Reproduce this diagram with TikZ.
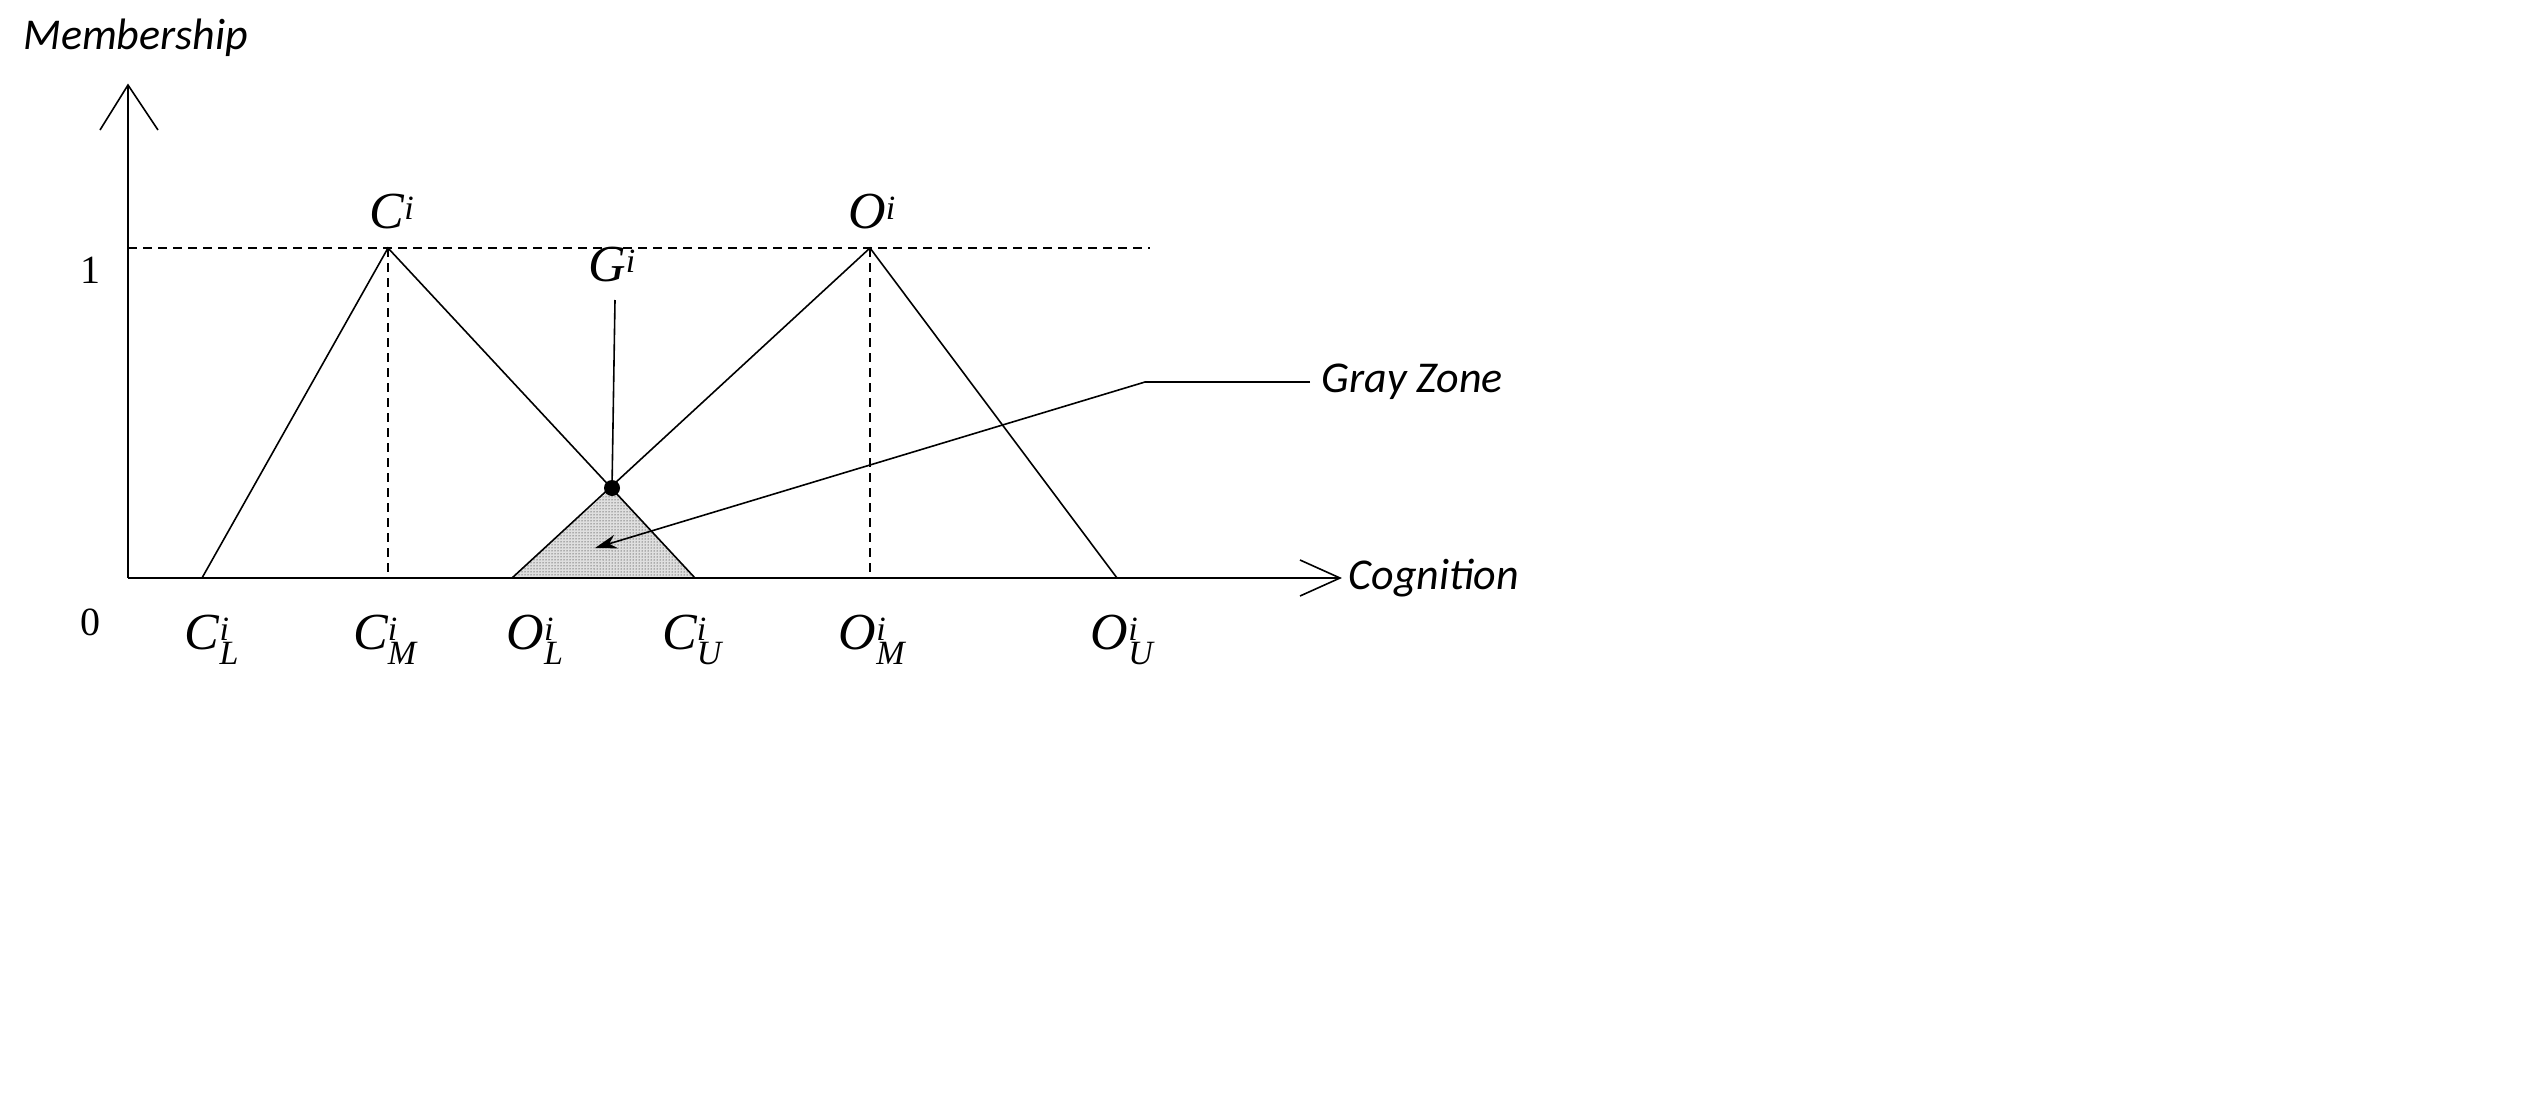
\documentclass[tikz,border=0pt]{standalone}
\usepackage{fontspec}
\setmainfont{Liberation Serif}
\newfontfamily\lab{Carlito}
\usetikzlibrary{patterns,arrows.meta}
\tikzset{
  ln/.style={line width=1.6pt},
  dsh/.style={line width=1.6pt,dash pattern=on 9pt off 6pt},
  word/.style={font=\lab\itshape\fontsize{44}{48}\selectfont,anchor=west},
  mth/.style={font=\fontsize{52}{56}\selectfont\itshape},
  num/.style={font=\fontsize{40}{44}\selectfont}
}
\newcommand{\sm}[1]{\hbox{\fontsize{34}{34}\selectfont\itshape #1}}
\newcommand{\lbl}[3]{#1$_{\sm{#2}}^{\sm{#3}}$}
\begin{document}
\begin{tikzpicture}[x=1pt,y=-1pt]
\useasboundingbox (0,0) rectangle (2527,1100);
\coordinate (O) at (128,578);
\coordinate (ytop) at (128,85);
\coordinate (xend) at (1340,578);
\coordinate (CL) at (202,578); \coordinate (CM) at (388,248); \coordinate (CU) at (695,578);
\coordinate (OL) at (512,578); \coordinate (OM) at (870,248); \coordinate (OU) at (1117,578);
\coordinate (X) at (612,488);
\coordinate (Gt) at (615,300);
% gray zone
\fill[gray!25] (OL) -- (X) -- (CU) -- cycle;
\fill[pattern=dots,pattern color=black] (OL) -- (X) -- (CU) -- cycle;
% axes
\draw[ln] (O) -- (ytop);
\draw[ln] (100,130) -- (ytop) -- (158,130);
\draw[ln] (O) -- (xend);
\draw[ln] (1300,560) -- (xend) -- (1300,596);
% dashed
\draw[dsh] (128,248) -- (1150,248);
\draw[dsh] (CM) -- (388,578);
\draw[dsh] (OM) -- (870,578);
% triangles
\draw[ln] (CL) -- (CM) -- (CU);
\draw[ln] (OL) -- (OM) -- (OU);
\draw[ln] (X) -- (Gt);
\fill (X) circle (8);
% gray zone leader
\coordinate (g1) at (1310,382); \coordinate (g2) at (1145,382); \coordinate (g3) at (595,548);
\draw[ln] (g1) -- (g2);
\draw[ln,-{Stealth[length=22pt,width=14pt]}] (g2) -- (g3);
% labels
\node[word] (mem) at (20,38) {Membership};
\node[word] (cog) at (1345,578) {Cognition};
\node[word] (gz) at (1318,382) {Gray Zone};
\node[num] (one) at (90,270) {1};
\node[num] (zero) at (90,622) {0};
\node[mth] (Ci) at (392,212) {C$^{\sm{i}}$};
\node[mth] (Oi) at (872,212) {O$^{\sm{i}}$};
\node[mth] (Gi) at (612,265) {G$^{\sm{i}}$};
\node[mth] (l1) at (212,640) {\lbl{C}{L}{i}};
\node[mth] (l2) at (385,640) {\lbl{C}{M}{i}};
\node[mth] (l3) at (535,640) {\lbl{O}{L}{i}};
\node[mth] (l4) at (692,640) {\lbl{C}{U}{i}};
\node[mth] (l5) at (872,640) {\lbl{O}{M}{i}};
\node[mth] (l6) at (1122,640) {\lbl{O}{U}{i}};
\end{tikzpicture}
\end{document}
